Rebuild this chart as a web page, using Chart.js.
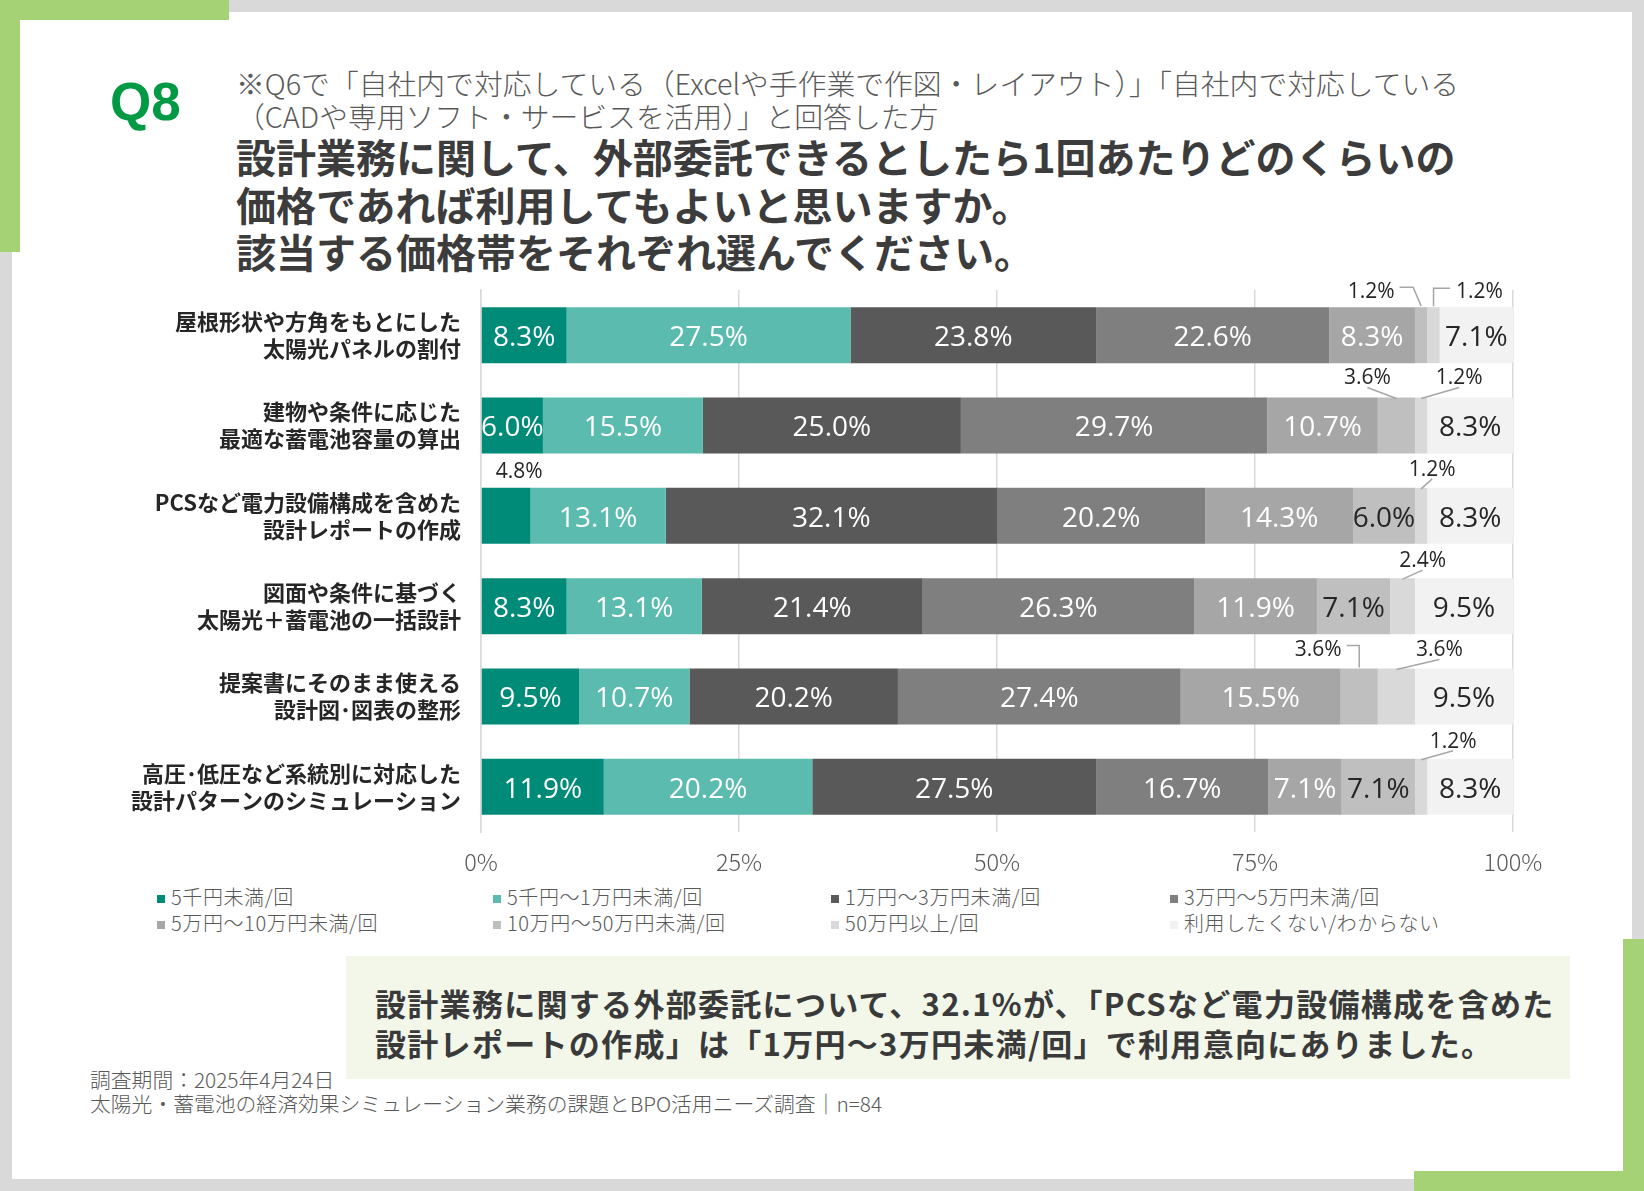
<!DOCTYPE html>
<html lang="ja">
<head>
<meta charset="utf-8">
<script src="https://cdn.jsdelivr.net/npm/chart.js@4.4.1/dist/chart.umd.min.js"></script>
<style>
body{margin:0;width:1644px;height:1191px;position:relative;background:#d9d9d9;overflow:hidden;font-family:"Noto Sans CJK JP",sans-serif}
#card{position:absolute;left:12px;top:12px;width:1620px;height:1167px;background:#fff}
.g{position:absolute;background:#a5d275}
#q{position:absolute;left:110px;top:75px;font:bold 53px/53px "Liberation Sans",Arial,sans-serif;color:#009944}
#note{position:absolute;left:236px;top:66px;font-size:28.8px;line-height:33px;font-weight:300;color:#595959;white-space:nowrap}
#title{position:absolute;left:236px;top:133px;font-size:40px;line-height:47.5px;font-weight:bold;color:#3c3c3c;white-space:nowrap}
#wrap{position:absolute;left:0;top:270px;width:1644px;height:610px}
#legend{position:absolute;left:0;top:0}
.li{position:absolute;white-space:nowrap;font-size:20px;line-height:22px;font-weight:300;color:#595959;letter-spacing:0.6px}
.li i{display:inline-block;width:8px;height:8px;margin-right:6px;vertical-align:2px}
#box{position:absolute;left:346px;top:956px;width:1195px;height:96px;padding:27px 0 0 29px;background:#f2f7ea;font-size:31px;line-height:40px;font-weight:bold;color:#3a3a3a;letter-spacing:1.3px;white-space:nowrap}
#foot{position:absolute;left:90px;top:1067px;font-size:20.8px;line-height:24px;font-weight:300;color:#595959;white-space:nowrap}
</style>
</head>
<body>
<div id="card"></div>
<div class="g" style="left:0;top:0;width:229px;height:20px"></div>
<div class="g" style="left:0;top:0;width:20px;height:252px"></div>
<div class="g" style="left:1623px;top:939px;width:21px;height:252px"></div>
<div class="g" style="left:1414px;top:1171px;width:230px;height:20px"></div>

<div id="q">Q8</div>
<div id="note">※Q6で「自社内で対応している（Excelや手作業で作図・レイアウト）」「自社内で対応している<br>（CADや専用ソフト・サービスを活用）」と回答した方</div>
<div id="title">設計業務に関して、外部委託できるとしたら1回あたりどのくらいの<br>価格であれば利用してもよいと思いますか。<br>該当する価格帯をそれぞれ選んでください。</div>

<div id="wrap"><canvas id="myChart"></canvas></div>
<div id="legend"></div>

<div id="box">設計業務に関する外部委託について、32.1%が、「PCSなど電力設備構成を含めた<br>設計レポートの作成」は「1万円～3万円未満/回」で利用意向にありました。</div>
<div id="foot">調査期間：2025年4月24日<br>太陽光・蓄電池の経済効果シミュレーション業務の課題とBPO活用ニーズ調査｜n=84</div>

<script>
const categories = [
  ['屋根形状や方角をもとにした', '太陽光パネルの割付'],
  ['建物や条件に応じた', '最適な蓄電池容量の算出'],
  ['PCSなど電力設備構成を含めた', '設計レポートの作成'],
  ['図面や条件に基づく', '太陽光＋蓄電池の一括設計'],
  ['提案書にそのまま使える', '設計図･図表の整形'],
  ['高圧･低圧など系統別に対応した', '設計パターンのシミュレーション']
];
const seriesNames = [
  '5千円未満/回', '5千円～1万円未満/回', '1万円～3万円未満/回', '3万円～5万円未満/回',
  '5万円～10万円未満/回', '10万円～50万円未満/回', '50万円以上/回', '利用したくない/わからない'
];
const under5k   = [8.3, 6.0, 4.8, 8.3, 9.5, 11.9];
const to10k     = [27.5, 15.5, 13.1, 13.1, 10.7, 20.2];
const to30k     = [23.8, 25.0, 32.1, 21.4, 20.2, 27.5];
const to50k     = [22.6, 29.7, 20.2, 26.3, 27.4, 16.7];
const to100k    = [8.3, 10.7, 14.3, 11.9, 15.5, 7.1];
const to500k    = [1.2, 3.6, 6.0, 7.1, 3.6, 7.1];
const over500k  = [1.2, 1.2, 1.2, 2.4, 3.6, 1.2];
const noUse     = [7.1, 8.3, 8.3, 9.5, 9.5, 8.3];
const xTicks = [0, 25, 50, 75, 100];

const seriesValues = [under5k, to10k, to30k, to50k, to100k, to500k, over500k, noUse];
const colors = ['#008a78', '#5bbbaf', '#595959', '#7f7f7f', '#a6a6a6', '#bfbfbf', '#d9d9d9', '#f2f2f2'];

// small segments get their label outside the bar (offsets from the segment centre)
const callouts = [
  {row: 0, series: 5, dx: -50, dy: -16, lead: 'elbowL', kx: -8},
  {row: 0, series: 6, dx: 46, dy: -16, lead: 'elbowR'},
  {row: 1, series: 5, dx: -29, dy: -20, lead: 'diag'},
  {row: 1, series: 6, dx: 38, dy: -20, lead: 'diag'},
  {row: 2, series: 0, dx: 13, dy: -17, lead: 'none'},
  {row: 2, series: 6, dx: 11, dy: -19, lead: 'diag'},
  {row: 3, series: 6, dx: 20, dy: -18, lead: 'diag'},
  {row: 4, series: 5, dx: -41, dy: -19, lead: 'elbowL', kx: 0},
  {row: 4, series: 6, dx: 43, dy: -19, lead: 'diag'},
  {row: 5, series: 6, dx: 32, dy: -18, lead: 'diag'}
];

const barLabels = {
  id: 'barLabels',
  afterDatasetsDraw(chart) {
    const ctx = chart.ctx;
    ctx.save();
    chart.data.datasets.forEach((ds, i) => {
      chart.getDatasetMeta(i).data.forEach((bar, j) => {
        const txt = ds.data[j].toFixed(1) + '%';
        const cx = (bar.x + bar.base) / 2;
        const top = bar.y - bar.height / 2;
        const co = callouts.find(c => c.row === j && c.series === i);
        ctx.textAlign = 'center';
        ctx.textBaseline = 'middle';
        if (!co) {
          ctx.font = '28px "Open Sans"';
          ctx.fillStyle = i < 5 ? '#ffffff' : '#262626';
          ctx.fillText(txt, cx, bar.y + 3);
          return;
        }
        const tx = cx + co.dx, ty = top + co.dy;
        ctx.font = '21px "Open Sans"';
        ctx.fillStyle = '#262626';
        ctx.fillText(txt, tx, ty + 1);
        const w = ctx.measureText(txt).width;
        ctx.strokeStyle = '#a6a6a6';
        ctx.lineWidth = 1.5;
        ctx.beginPath();
        if (co.lead === 'diag') {
          ctx.moveTo(tx, ty + 10);
          ctx.lineTo(cx, top + 1);
        } else if (co.lead === 'elbowL') {
          ctx.moveTo(tx + w / 2 + 5, ty - 4);
          ctx.lineTo(cx + co.kx, ty - 4);
          ctx.lineTo(cx, top - 1);
        } else if (co.lead === 'elbowR') {
          ctx.moveTo(cx, top - 1);
          ctx.lineTo(cx, ty - 3);
          ctx.lineTo(tx - w / 2 - 6, ty - 3);
        }
        ctx.stroke();
      });
    });
    ctx.restore();
  }
};

const config = {
  type: 'bar',
  data: {
    labels: categories,
    datasets: seriesValues.map((vals, i) => ({
      label: seriesNames[i],
      data: vals,
      backgroundColor: colors[i],
      borderWidth: 0,
      barPercentage: 0.62,
      categoryPercentage: 1
    }))
  },
  options: {
    indexAxis: 'y',
    responsive: true,
    maintainAspectRatio: false,
    animation: false,
    layout: {padding: {top: 20, right: 131, left: 0, bottom: 0}},
    plugins: {legend: {display: false}, tooltip: {enabled: false}},
    scales: {
      x: {
        stacked: true,
        min: 0,
        max: 100,
        afterBuildTicks: s => { s.ticks = xTicks.map(v => ({value: v})); },
        afterFit: s => { s.height = 48; },
        grid: {color: '#d9d9d9', lineWidth: 1.5, drawTicks: false},
        border: {display: false},
        ticks: {
          padding: 16,
          color: '#595959',
          font: {family: '"Noto Sans CJK JP"', size: 23.5, weight: 300},
          callback: v => v + '%'
        }
      },
      y: {
        stacked: true,
        afterFit: s => { s.width = 481; s.paddingTop = 0; s.paddingBottom = 0; },
        grid: {display: false, drawTicks: false},
        border: {display: true, color: '#d9d9d9', width: 1.5},
        ticks: {
          padding: 20,
          color: '#262626',
          font: {family: '"Noto Sans CJK JP"', size: 22, weight: 'bold', lineHeight: 1.23}
        }
      }
    }
  },
  plugins: [barLabels]
};

const myChart = new Chart(document.getElementById('myChart'), config);

// legend in four columns, built from the series names and colours
const legendCols = [157, 493, 831, 1170];
const legendRows = [886, 912];
const legend = document.getElementById('legend');
seriesNames.forEach((name, i) => {
  const d = document.createElement('div');
  d.className = 'li';
  d.style.left = legendCols[i % 4] + 'px';
  d.style.top = legendRows[Math.floor(i / 4)] + 'px';
  d.innerHTML = '<i style="background:' + colors[i] + '"></i>' + name;
  legend.appendChild(d);
});
</script>
</body>
</html>
